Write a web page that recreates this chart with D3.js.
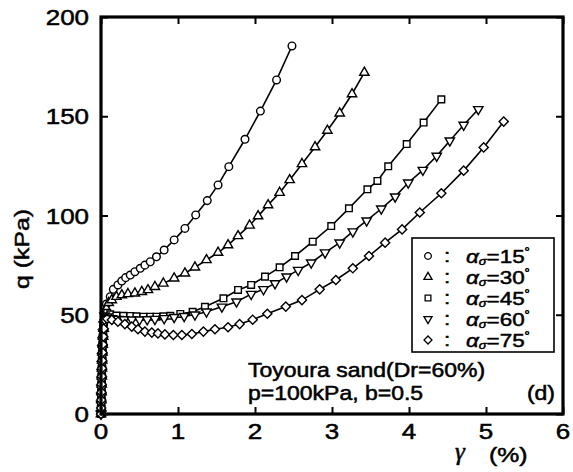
<!DOCTYPE html>
<html><head><meta charset="utf-8">
<script src="https://cdn.jsdelivr.net/npm/d3@7"></script>
<style>body{margin:0;background:#fff}svg{display:block}</style>
</head><body>
<script>
// ---- data ----
const xTicks = [0, 1, 2, 3, 4, 5, 6];
const yTicks = [0, 50, 100, 150, 200];
const seriesAngles = ["15", "30", "45", "60", "75"];

const a15x = [0,0.002,0.004,0.006,0.008,0.010,0.012,0.015,0.018,0.022,0.027,0.033,0.05,0.07,0.12,0.16,0.22,0.27,0.32,0.38,0.44,0.51,0.57,0.64,0.72,0.82,0.95,1.09,1.23,1.38,1.52,1.66,1.87,2.07,2.28,2.48];
const a15q = [0,4,8,12,16,20,24,28,32,36,40,45,51.5,55.4,59.1,62.8,65,67,68.7,70,71.7,73.4,75,76.7,79.2,82.6,87.7,93.5,100.3,107.5,115.4,124.6,138.4,152.6,168.3,185.4];

const a30x = [0,0.003,0.005,0.007,0.009,0.011,0.013,0.016,0.019,0.023,0.028,0.035,0.045,0.07,0.10,0.14,0.20,0.27,0.35,0.44,0.53,0.61,0.70,0.81,0.95,1.09,1.22,1.37,1.52,1.65,1.78,1.93,2.04,2.17,2.32,2.45,2.61,2.78,2.94,3.10,3.26,3.42];
const a30q = [0,3,7,11,15,19,23,27,31,35,39,43,48,53,56,57.4,59.1,59.9,60.5,60.8,61.6,62.5,64.1,65.8,68.4,70.9,73.9,77.6,81.3,85.1,89.7,95,99.7,105.3,111.5,117.9,126,134.5,142.8,151.5,161.2,172];

const a45x = [0,0.002,0.004,0.006,0.008,0.010,0.012,0.014,0.017,0.020,0.024,0.03,0.04,0.08,0.12,0.20,0.29,0.38,0.46,0.55,0.64,0.72,0.81,0.90,1.03,1.19,1.35,1.59,1.78,1.95,2.13,2.32,2.52,2.75,2.99,3.22,3.46,3.59,3.73,3.97,4.19,4.42];
const a45q = [0,2,6,10,14,18,22,26,30,34,38,43,49,51,50.2,49.6,49.5,49.4,49.2,49,49,49,49.2,49.5,50.4,51.5,54,58.3,62.5,65,69.2,73.9,79.6,86.8,94.7,103.6,113.2,117.4,124.8,136,146.8,158.5];

const a60x = [0,0.002,0.004,0.006,0.008,0.010,0.012,0.015,0.018,0.022,0.027,0.034,0.045,0.08,0.14,0.22,0.30,0.40,0.50,0.60,0.70,0.82,0.95,1.08,1.22,1.37,1.57,1.76,1.95,2.11,2.26,2.41,2.56,2.73,2.91,3.10,3.27,3.45,3.64,3.82,3.99,4.18,4.36,4.53,4.71,4.90];
const a60q = [0,5,9,13,17,21,25,29,33,37,41,45,49.5,49,48.2,47.8,47.6,47.5,47.5,47.6,47.8,48.2,48.8,49.3,50,51.5,54,56.6,60.4,62.8,65.8,69.2,72.5,76.2,81.3,86.3,91.9,97.4,103.4,109.5,116.5,122.9,130,137.7,145.6,153.5];

const a75x = [0,0.002,0.004,0.006,0.008,0.010,0.013,0.016,0.019,0.023,0.028,0.035,0.045,0.08,0.14,0.22,0.31,0.40,0.48,0.57,0.66,0.74,0.83,0.94,1.05,1.18,1.33,1.48,1.65,1.80,1.97,2.16,2.40,2.61,2.84,3.05,3.27,3.48,3.69,3.91,4.14,4.42,4.71,4.97,5.23];
const a75q = [0,3,7,11,15,19,23,27,31,35,39,43,47.5,48,47.4,46.5,45.3,44,42.7,41.5,41,40.6,40.1,39.8,39.8,40.3,41.5,42.7,43.7,45.3,47.5,50.5,54.1,57.4,62.8,67.5,73.4,79.6,86.3,93,101.5,111.2,122.6,134.3,147.3];

const seriesX = [a15x, a30x, a45x, a60x, a75x];
const seriesQ = [a15q, a30q, a45q, a60q, a75q];

// ---- drawing ----
const W = 573, H = 472;
const svg = d3.select("body").append("svg").attr("width", W).attr("height", H);
const x = d3.scaleLinear().domain([0, 6]).range([101, 563]);
const y = d3.scaleLinear().domain([0, 200]).range([414, 17]);
const SX = 1.18;
const font = "'Liberation Sans', Arial, Helvetica, sans-serif";

function bold(sel) {
  return sel.attr("stroke", "#000").attr("stroke-width", 0.5).attr("paint-order", "stroke");
}
function txt(px, py, s, size, anchor) {
  return bold(svg.append("text")
    .attr("transform", `translate(${px},${py}) scale(${SX},1)`)
    .attr("font-family", font).attr("font-size", size)
    .attr("text-anchor", anchor || "start").attr("fill", "#000").text(s));
}

// symbols
const symDefs = [
  {type: d3.symbolCircle, size: 46, rot: 0},
  {type: d3.symbolTriangle, size: 38, rot: 0},
  {type: d3.symbolSquare, size: 44, rot: 0},
  {type: d3.symbolTriangle, size: 38, rot: 180},
  {type: d3.symbolSquare, size: 42, rot: 45}
];

const lineGen = d3.line().x(d => x(d[0])).y(d => y(d[1]));
seriesX.forEach((xs, i) => {
  const pts = xs.map((v, j) => [v, seriesQ[i][j]]);
  svg.append("path").datum(pts).attr("d", lineGen)
    .attr("fill", "none").attr("stroke", "#000").attr("stroke-width", 1.6);
});
seriesX.forEach((xs, i) => {
  const pts = xs.map((v, j) => [v, seriesQ[i][j]]);
  const sd = symDefs[i];
  svg.append("g").selectAll("path").data(pts).join("path")
    .attr("d", d3.symbol().type(sd.type).size(sd.size)())
    .attr("transform", d => `translate(${x(d[0])},${y(d[1])}) rotate(${sd.rot})`)
    .attr("fill", "#fff").attr("stroke", "#000").attr("stroke-width", 1.4);
});

// frame
svg.append("rect").attr("x", x(0)).attr("y", y(200))
  .attr("width", x(6) - x(0)).attr("height", y(0) - y(200))
  .attr("fill", "none").attr("stroke", "#000").attr("stroke-width", 3.2);

// axes ticks (inward) via d3 axes
const xb = svg.append("g").attr("transform", `translate(0,${y(0)})`)
  .call(d3.axisBottom(x).tickValues(xTicks).tickSize(-7).tickFormat(""));
const xt = svg.append("g").attr("transform", `translate(0,${y(200)})`)
  .call(d3.axisTop(x).tickValues(xTicks).tickSize(-7).tickFormat(""));
const yl = svg.append("g").attr("transform", `translate(${x(0)},0)`)
  .call(d3.axisLeft(y).tickValues(yTicks).tickSize(-7).tickFormat(""));
const yr = svg.append("g").attr("transform", `translate(${x(6)},0)`)
  .call(d3.axisRight(y).tickValues(yTicks).tickSize(-7).tickFormat(""));
[xb, xt, yl, yr].forEach(g => {
  g.select(".domain").remove();
  g.selectAll("line").attr("stroke", "#000").attr("stroke-width", 2);
});

// tick labels
xTicks.forEach(v => txt(x(v), 439, String(v), 22, "middle"));
yTicks.forEach(v => txt(89, y(v) + 8, String(v), 22, "end"));

// axis titles
bold(svg.append("text").attr("transform", `translate(29,249) rotate(-90) scale(${SX},1)`)
  .attr("font-family", font).attr("font-size", 21).attr("text-anchor", "middle").text("q (kPa)"));
bold(svg.append("text").attr("x", 455).attr("y", 460)
  .attr("font-family", "'Liberation Serif', 'DejaVu Serif', serif").attr("font-style", "italic")
  .attr("font-size", 25).text("γ"));
txt(489, 462, "(%)", 21, "start");

// legend
svg.append("rect").attr("x", 412).attr("y", 238).attr("width", 142).attr("height", 114)
  .attr("fill", "#fff").attr("stroke", "#000").attr("stroke-width", 1.6);
seriesAngles.forEach((a, i) => {
  const ry = 256 + i * 21;
  const sd = symDefs[i];
  svg.append("path").attr("d", d3.symbol().type(sd.type).size(sd.size * 0.75)())
    .attr("transform", `translate(428,${ry}) rotate(${sd.rot})`)
    .attr("fill", "#fff").attr("stroke", "#000").attr("stroke-width", 1.3);
  txt(447, ry + 6, ":", 19, "middle");
  const t = bold(svg.append("text")
    .attr("transform", `translate(466,${ry + 7}) scale(${SX},1)`)
    .attr("font-family", font).attr("font-size", 19));
  t.append("tspan").attr("font-style", "italic").text("α");
  t.append("tspan").attr("font-style", "italic").attr("font-size", 11).attr("dy", 2).text("σ");
  t.append("tspan").attr("dy", -2).text("=" + a);
  t.append("tspan").attr("font-size", 11).attr("dy", -8).text("°");
});

// annotation
txt(248, 377, "Toyoura sand(Dr=60%)", 19.5, "start");
txt(248, 400, "p=100kPa,  b=0.5", 19.5, "start");
txt(555, 400, "(d)", 19.5, "end");
</script>
</body></html>
